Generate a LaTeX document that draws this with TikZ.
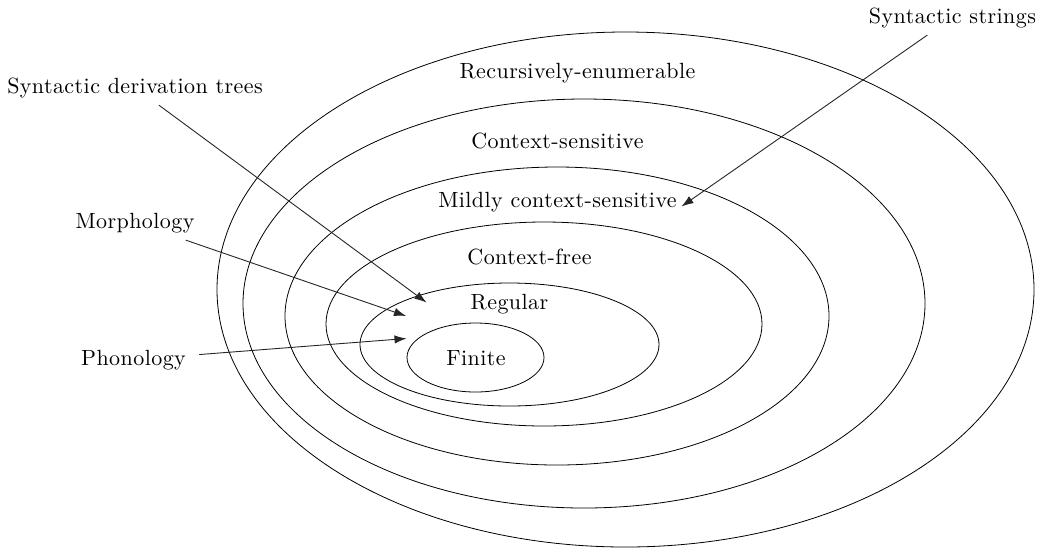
\documentclass[tikz,border=0pt]{standalone}
\usepackage{fontspec}
\setmainfont{Latin Modern Roman}[LetterSpace=2]
\usetikzlibrary{shapes.geometric,arrows.meta}
\begin{document}
\begin{tikzpicture}[x=0.5pt,y=-0.5pt,
  every node/.style={font=\fontsize{11}{13}\selectfont},
  ring/.style={draw,ellipse,inner sep=0pt,line width=0.4pt},
  lbl/.style={anchor=base,inner sep=0pt},
  side/.style={anchor=base,inner sep=3.6pt},
  pointer/.style={draw,line width=0.45pt,draw=black!85,-{Latex[length=6pt,width=4.2pt]}}]
\useasboundingbox (0,0) rectangle (1039,548);
% nested language classes (radii in pt = half the pixel diameter)
\node[ring,minimum width=408.5pt,minimum height=257.5pt] (re)  at (625.5,289.5) {};
\node[ring,minimum width=341pt,minimum height=204.5pt]   (cs)  at (584,303.5) {};
\node[ring,minimum width=272pt,minimum height=149pt]     (mcs) at (557,316) {};
\node[ring,minimum width=218pt,minimum height=102pt]     (cf)  at (544,324) {};
\node[ring,minimum width=149.5pt,minimum height=61.5pt]  (reg) at (509.5,344.5) {};
\node[ring,minimum width=68.5pt,minimum height=34.5pt]   (fin) at (475.5,357.5) {};
% class names
\node[lbl] (tre)  at (577.5,78)  {Recursively-enumerable};
\node[lbl] (tcs)  at (557.5,148) {Context-sensitive};
\node[lbl] (tmcs) at (557.5,207) {Mildly context-sensitive};
\node[lbl] (tcf)  at (529.5,264) {Context-free};
\node[lbl] (treg) at (509.5,309) {Regular};
\node[lbl] (tfin) at (476,365)   {Finite};
% linguistic phenomena
\node[side] (strings) at (952.5,23) {Syntactic strings};
\node[side] (trees)   at (135,93)   {Syntactic derivation trees};
\node[side] (morph)   at (135,228)  {Morphology};
\node[side,inner xsep=6.5pt] (phon) at (133.5,365) {Phonology};
\coordinate (pStrings) at (681.5,206.5);
\coordinate (pTrees)   at (426.5,302.5);
\coordinate (pMorph)   at (406,316);
\coordinate (pPhon)    at (406.5,338.5);
\draw[pointer] (strings) -- (pStrings);
\draw[pointer] (trees) -- (pTrees);
\draw[pointer] (morph) -- (pMorph);
\draw[pointer] (phon) -- (pPhon);
\end{tikzpicture}
\end{document}
